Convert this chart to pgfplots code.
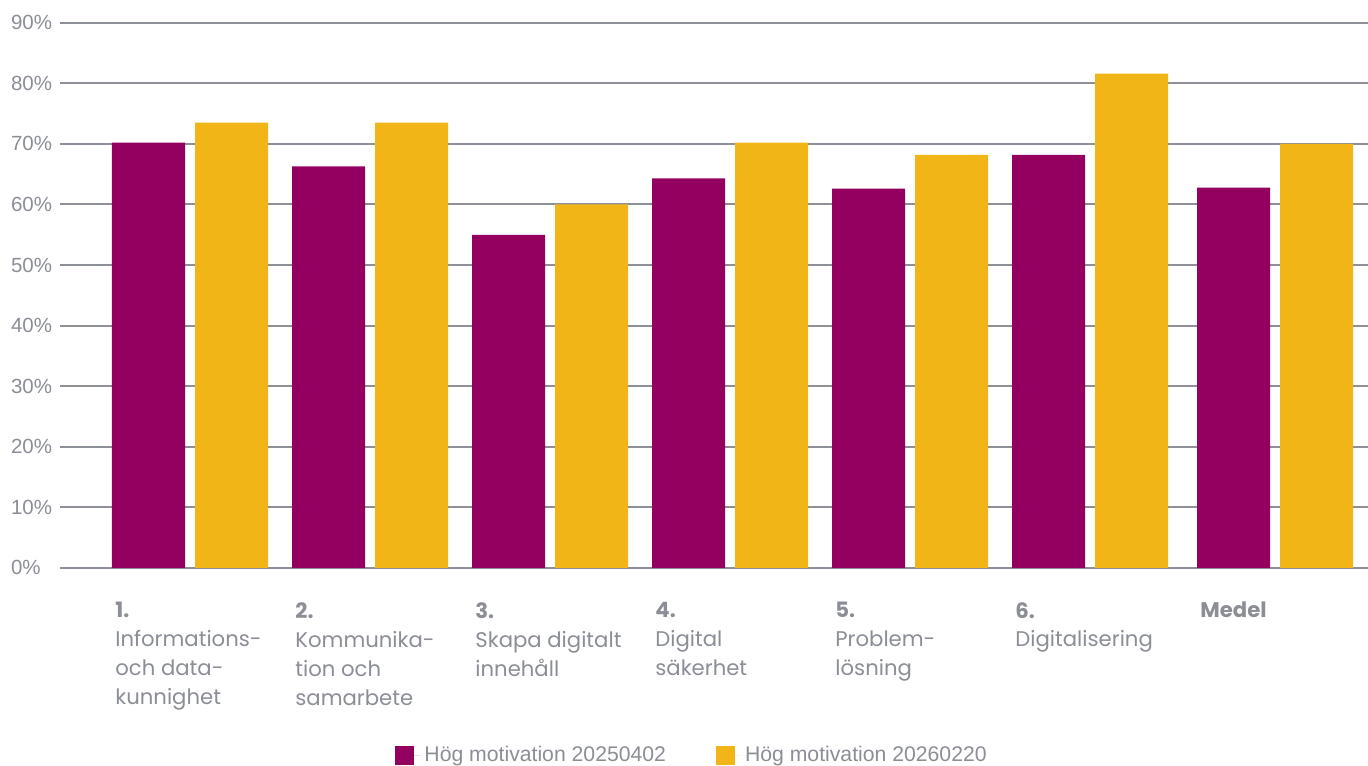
\documentclass[border=0pt]{standalone}
\usepackage{fontspec}
\setmainfont{Liberation Sans}
\newfontfamily\poppins{Poppins}
\usepackage{pgfplots}
\pgfplotsset{compat=1.18}
\definecolor{cpurple}{HTML}{930060}
\definecolor{cyellow}{HTML}{F2B517}
\definecolor{cgrid}{HTML}{8E9099}
\definecolor{ctext}{HTML}{8B8E97}
\begin{document}
\begin{tikzpicture}
\useasboundingbox (-30pt,-98.6pt) rectangle (654pt,283.9pt);
\begin{axis}[
  at={(0pt,0pt)}, anchor=south west,
  scale only axis, width=654pt, height=272.5pt,
  xmin=-0.7222, xmax=6.5444, ymin=0, ymax=90,
  axis line style={draw=none},
  major tick length=0pt,
  ymajorgrids, major grid style={line width=1pt, color=cgrid},
  ytick={0,10,...,90},
  yticklabels={0\%,10\%,20\%,30\%,40\%,50\%,60\%,70\%,80\%,90\%},
  yticklabel style={anchor=west, inner sep=0pt, xshift=-24.65pt, font=\fontsize{10.25}{12}\selectfont, text=ctext},
  xtick={0,1,2,3,4,5,6.028},
  xticklabels={{\textbf{1.}\\Informations-\\och data-\\kunnighet},
               {\textbf{2.}\\Kommunika-\\tion och\\samarbete},
               {\textbf{3.}\\Skapa digitalt\\innehåll},
               {\textbf{4.}\\Digital\\säkerhet},
               {\textbf{5.}\\Problem-\\lösning},
               {\textbf{6.}\\Digitalisering},
               {\textbf{Medel}}},
  xticklabel style={anchor=north west, align=left, inner sep=0pt, xshift=-37.5pt, yshift=-17pt,
     font=\poppins\fontsize{10.6}{14.5}\selectfont, text=ctext},
  legend columns=2,
  legend style={at={(0.484,-0.3435)}, anchor=center, draw=none, fill=none,
     font=\fontsize{10.6}{12}\selectfont, text=ctext,
     /tikz/every even column/.append style={column sep=23pt}},
  legend image code/.code={\path (0pt,0pt) -- (12.5pt,0pt); \fill[#1] (0pt,-4.75pt) rectangle (9.5pt,4.75pt);},
]
\addplot[ybar, bar width=36.5pt, bar shift=-20.75pt, fill=cpurple, draw=none]
  coordinates {(0,70.2) (1,66.3) (2,55.0) (3,64.3) (4,62.6) (5,68.2) (6.028,62.8)};
\addlegendentry{Hög motivation 20250402}
\addplot[ybar, bar width=36.5pt, bar shift=20.75pt, fill=cyellow, draw=none]
  coordinates {(0,73.5) (1,73.5) (2,60.0) (3,70.2) (4,68.2) (5,81.6) (6.028,70.0)};
\addlegendentry{Hög motivation 20260220}
\end{axis}
\end{tikzpicture}
\end{document}
